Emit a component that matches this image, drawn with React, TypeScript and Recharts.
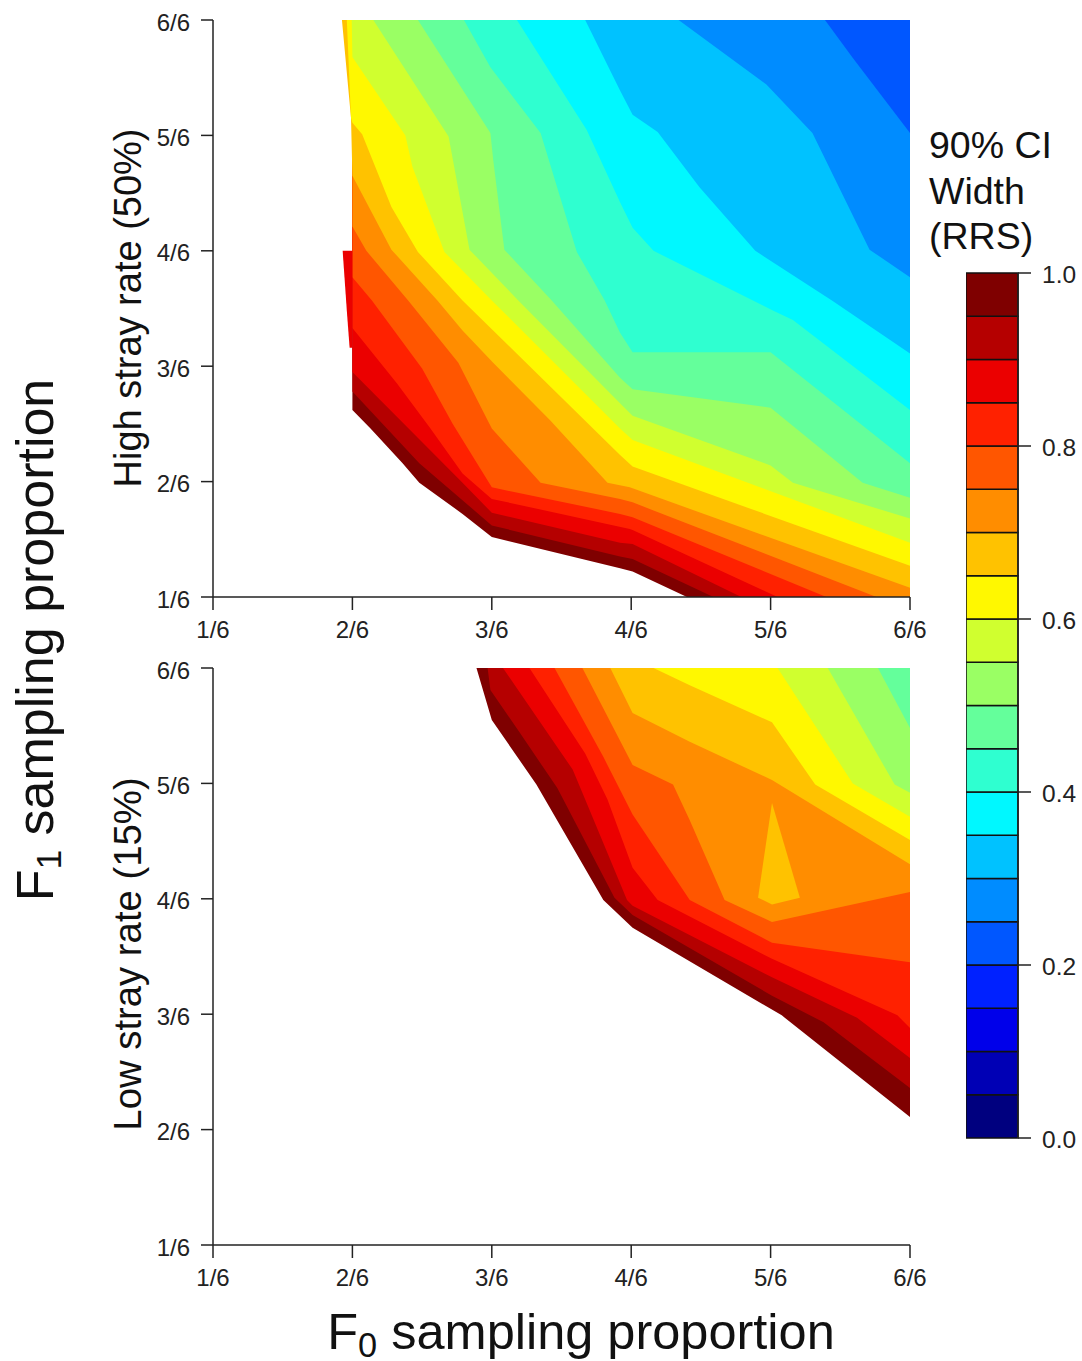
import React from "react";
import { ComposedChart, BarChart, Area, Bar, XAxis, YAxis } from "recharts";

type Pt = number[];

const fractionTicks = [1, 2, 3, 4, 5, 6];
const scaleTicks = [0, 0.2, 0.4, 0.6, 0.8, 1];
const bandWidth = 0.05;

// low to high, 0.00-0.05 ... 0.95-1.00
const bandColors = [
  "#00007F", "#0000B5", "#0000EA", "#0021FF", "#0057FF", "#008CFF", "#00C2FF", "#00F8FF", "#2FFFD0", "#64FF9B",
  "#9AFF64", "#D0FF2F", "#FFF800", "#FFC200", "#FF8D00", "#FF5600", "#FF2100", "#EB0000", "#B50000", "#7F0000",
];

// Contour lines: [F0 in sixths, F1 in sixths]. Index 0 is the 0.95-1.00 band's lower edge, then downward in value.
const highStrayContours: Pt[][] = [
  [[2, 2.62], [2.13, 2.46], [2.36, 2.16], [2.48, 1.99], [2.79, 1.72], [3, 1.52], [3.92, 1.25], [4.01, 1.22], [4.4, 1], [6, 1]],
  [[2, 2.78], [2.48, 2.16], [3, 1.62], [3.92, 1.35], [4.01, 1.33], [4.59, 1], [6, 1]],
  [[2, 2.95], [2.51, 2.33], [2.79, 1.99], [3, 1.73], [3.92, 1.47], [4.01, 1.46], [4.79, 1], [6, 1]],
  [[2, 3.33], [2.32, 2.85], [2.56, 2.46], [2.79, 2.07], [3, 1.85], [3.99, 1.59], [4.01, 1.58], [5.05, 1], [6, 1]],
  [[2, 3.77], [2.14, 3.57], [2.5, 2.98], [2.72, 2.5], [3, 1.95], [3.92, 1.72], [4.01, 1.69], [5.4, 1], [6, 1]],
  [[2, 4.21], [2.1, 4], [2.4, 3.57], [2.76, 3.03], [3, 2.46], [3.35, 1.99], [3.92, 1.85], [4.01, 1.82], [5.76, 1], [6, 1]],
  [[1.925, 6], [1.99, 5.15], [2, 4.65], [2.28, 4.01], [2.61, 3.57], [2.79, 3.31], [3.01, 3.03], [3.42, 2.53], [3.83, 1.99], [3.99, 1.95], [6, 1.08]],
  [[1.96, 6], [1.99, 5.15], [2, 5.11], [2.07, 5.01], [2.28, 4.38], [2.47, 3.99], [2.79, 3.57], [3.92, 2.23], [4.01, 2.13], [6, 1.27]],
  [[1.995, 6], [2, 5.68], [2.38, 5], [2.43, 4.73], [2.66, 3.99], [3, 3.57], [3.92, 2.46], [4.01, 2.36], [6, 1.47]],
  [[2.15, 6], [2.69, 4.99], [2.84, 4.01], [3.19, 3.57], [3.92, 2.68], [4.01, 2.57], [5, 2.14], [5.16, 1.99], [6, 1.68]],
  [[2.47, 6], [2.99, 5.02], [3.01, 4.79], [3.09, 4.01], [3.43, 3.57], [3.92, 2.9], [4.01, 2.8], [5, 2.64], [5.66, 1.99], [6, 1.86]],
  [[2.8, 6], [2.99, 5.59], [3.35, 5.02], [3.61, 3.99], [3.81, 3.57], [3.92, 3.29], [4.01, 3.12], [5, 3.12], [6, 2.16]],
  [[3.18, 6], [3.68, 5.05], [3.92, 4.42], [4.01, 4.2], [4.16, 4], [5.02, 3.48], [5.16, 3.4], [6, 2.62]],
  [[3.67, 6], [3.92, 5.39], [4.01, 5.18], [4.19, 5.03], [4.49, 4.55], [4.89, 4], [5.44, 3.57], [6, 3.11]],
  [[4.34, 6], [4.97, 5.44], [5.3, 5.02], [5.71, 4.01], [6, 3.77]],
  [[5.39, 6], [5.59, 5.67], [6, 5.02]],
];

const lowStrayContours: Pt[][] = [
  [[2.89, 6], [3, 5.55], [3.32, 4.99], [3.8, 3.99], [4.01, 3.75], [5.08, 2.99], [6, 2.11]],
  [[2.97, 6], [2.99, 5.81], [3.2, 5.44], [3.47, 4.96], [3.88, 4.01], [4.01, 3.86], [5.01, 3.16], [5.38, 2.93], [6, 2.36]],
  [[3.08, 6], [3.58, 5.12], [3.67, 4.86], [3.97, 3.99], [4.01, 3.94], [5.01, 3.32], [5.62, 2.97], [6, 2.62]],
  [[3.27, 6], [3.67, 5.26], [3.83, 4.86], [4.01, 4.27], [4.19, 3.99], [5.01, 3.48], [5.91, 2.99], [6, 2.88]],
  [[3.45, 6], [3.8, 5.23], [4.01, 4.73], [4.42, 3.99], [5.01, 3.62], [6, 3.45]],
  [[3.65, 6], [4.01, 5.16], [4.3, 4.99], [4.42, 4.68], [4.67, 3.99], [5.01, 3.8], [6, 4.06]],
  [[3.85, 6], [4.01, 5.61], [4.42, 5.36], [5.01, 5.03], [6, 4.3]],
  [[4.16, 6], [4.42, 5.85], [5.01, 5.53], [5.32, 4.99], [6, 4.51]],
  [[5.05, 6], [5.59, 5], [6, 4.71]],
  [[5.41, 6], [5.89, 4.99], [6, 4.92]],
  [[5.77, 6], [6, 5.48]],
];

// Isolated pieces: [F0, lower F1, upper F1]
const highStrayRedSliver: Pt[] = [[1.93, 4, 4], [1.96, 3.48, 4], [1.98, 3.16, 4], [2, 3.16, 4]];
const lowStrayIsland: Pt[] = [[4.91, 4.01, 4.01], [5.01, 3.95, 4.83], [5.21, 4.01, 4.01]];

const font = "'Liberation Sans', Arial, sans-serif";
const ink = "#222";

const contourRows = (pts: Pt[]) => pts.map(([x, y]) => ({ x, y: [y, 6] }));
const pieceRows = (pts: Pt[]) => pts.map(([x, lo, hi]) => ({ x, y: [lo, hi] }));
const fractionLabel = (v: number) => `${v}/6`;

function Panel({ top, contours, piece, pieceColor }: { top: number; contours: Pt[][]; piece: Pt[]; pieceColor: string }) {
  const tickStyle = { fontSize: 24, fill: ink, fontFamily: font };
  const axisLine = { stroke: ink, strokeWidth: 1.5 };
  return (
    <div style={{ position: "absolute", left: 0, top }}>
      <ComposedChart width={960} height={660} margin={{ top: 20, right: 50, bottom: 3, left: 0 }}>
        <XAxis
          type="number"
          dataKey="x"
          domain={[1, 6]}
          ticks={fractionTicks}
          tickFormatter={fractionLabel}
          interval={0}
          allowDataOverflow
          height={60}
          tickSize={13}
          tickMargin={11}
          tick={tickStyle}
          axisLine={axisLine}
          tickLine={axisLine}
        />
        <YAxis
          type="number"
          domain={[1, 6]}
          ticks={fractionTicks}
          tickFormatter={fractionLabel}
          interval={0}
          allowDataOverflow
          width={213}
          tickSize={12}
          tickMargin={11}
          tick={{ ...tickStyle, dy: 2 }}
          axisLine={axisLine}
          tickLine={axisLine}
        />
        {contours.map((pts, i) => (
          <Area
            key={i}
            data={contourRows(pts)}
            dataKey="y"
            type="linear"
            fill={bandColors[bandColors.length - 1 - i]}
            fillOpacity={1}
            stroke="none"
            dot={false}
            activeDot={false}
            isAnimationActive={false}
          />
        ))}
        <Area
          data={pieceRows(piece)}
          dataKey="y"
          type="linear"
          fill={pieceColor}
          fillOpacity={1}
          stroke="none"
          dot={false}
          activeDot={false}
          isAnimationActive={false}
        />
      </ComposedChart>
    </div>
  );
}

function ColorScale() {
  const row: Record<string, number | string> = { name: "scale" };
  bandColors.forEach((_, i) => (row[`b${i}`] = bandWidth));
  const axisLine = { stroke: ink, strokeWidth: 1.5 };
  return (
    <div style={{ position: "absolute", left: 966, top: 253 }}>
      <BarChart width={116} height={905} data={[row]} margin={{ top: 20, right: 0, bottom: 20, left: 0 }} barCategoryGap={0}>
        <XAxis dataKey="name" hide />
        <YAxis
          orientation="right"
          type="number"
          domain={[0, 1]}
          ticks={scaleTicks}
          tickFormatter={(v: number) => v.toFixed(1)}
          interval={0}
          width={64}
          tickSize={13}
          tickMargin={11}
          tick={{ fontSize: 24.5, fill: ink, fontFamily: font, dy: 1 }}
          axisLine={axisLine}
          tickLine={axisLine}
        />
        {bandColors.map((c, i) => (
          <Bar key={i} dataKey={`b${i}`} stackId="s" fill={c} stroke="#111" strokeWidth={1.5} isAnimationActive={false} />
        ))}
      </BarChart>
    </div>
  );
}

const Rotated = ({ x, y, size, children }: { x: number; y: number; size: number; children: React.ReactNode }) => (
  <div
    style={{
      position: "absolute",
      left: x,
      top: y,
      transform: "translate(-50%, -50%) rotate(-90deg)",
      whiteSpace: "nowrap",
      fontSize: size,
      lineHeight: 1,
      color: "#111",
    }}
  >
    {children}
  </div>
);

const Sub = ({ children }: { children: React.ReactNode }) => (
  <span style={{ fontSize: "0.68em", lineHeight: 0, position: "relative", top: "0.22em" }}>{children}</span>
);

export default function App() {
  return (
    <div style={{ position: "absolute", left: 0, top: 0, width: 1082, height: 1361, overflow: "hidden", background: "#fff", fontFamily: font }}>
      <Panel top={0} contours={highStrayContours} piece={highStrayRedSliver} pieceColor={bandColors[17]} />
      <Panel top={648} contours={lowStrayContours} piece={lowStrayIsland} pieceColor={bandColors[13]} />
      <ColorScale />
      <Rotated x={128} y={308} size={38}>High stray rate (50%)</Rotated>
      <Rotated x={128} y={954} size={38.3}>Low stray rate (15%)</Rotated>
      <Rotated x={35} y={640} size={52}>F<Sub>1</Sub> sampling proportion</Rotated>
      <div style={{ position: "absolute", left: 581, top: 1332, transform: "translate(-50%, -50%)", whiteSpace: "nowrap", fontSize: 50.5, lineHeight: 1, color: "#111" }}>
        F<Sub>0</Sub> sampling proportion
      </div>
      <div style={{ position: "absolute", left: 929, top: 123, fontSize: 37.5, lineHeight: "45.5px", color: "#111" }}>
        90% CI
        <br />
        Width
        <br />
        (RRS)
      </div>
    </div>
  );
}
